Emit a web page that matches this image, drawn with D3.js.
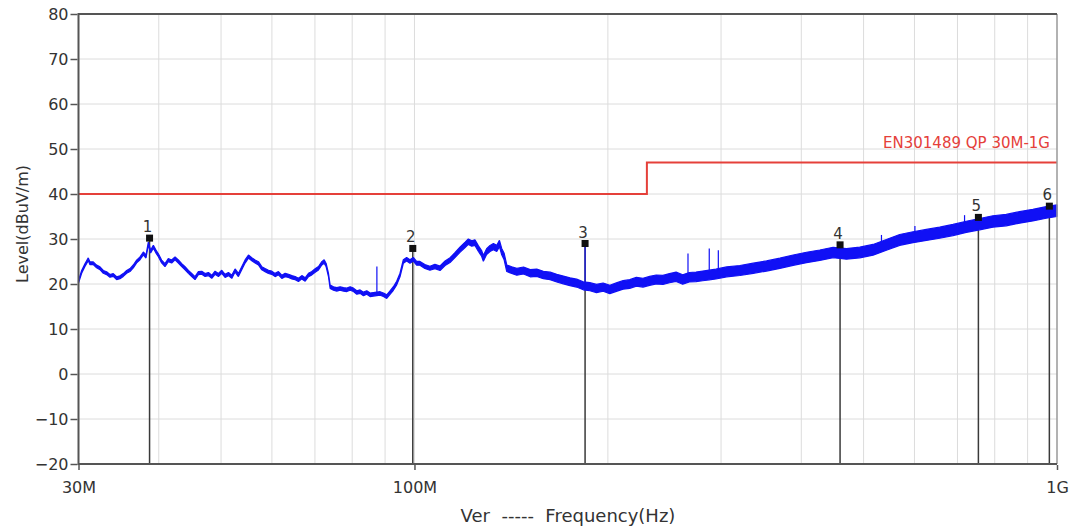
<!DOCTYPE html>
<html>
<head>
<meta charset="utf-8">
<script src="https://cdn.jsdelivr.net/npm/d3@7"></script>
<style>
    body { margin: 0; background: #fff; }
    svg text { font-family: 'DejaVu Sans', sans-serif; }
</style>
</head>
<body>
<script>
var traceFreq = [
    30.0, 30.34, 30.70, 31.07, 31.26, 31.63, 32.01, 32.40, 32.79, 33.18, 33.58, 33.98, 34.39, 34.81, 35.22, 35.65,
    36.08, 36.51, 36.95, 37.40, 37.85, 38.21, 38.53, 38.85, 39.23, 39.60, 39.94, 40.41, 40.90, 41.39, 41.89, 42.40,
    42.91, 43.43, 43.95, 44.48, 45.01, 45.55, 46.10, 46.66, 47.22, 47.79, 48.36, 48.94, 49.53, 50.13, 50.73, 51.34,
    51.96, 52.58, 53.21, 53.85, 54.50, 55.16, 55.82, 56.49, 57.17, 57.86, 58.55, 59.26, 59.97, 60.69, 61.42, 62.16,
    62.91, 63.67, 64.43, 65.21, 65.99, 66.79, 67.59, 68.40, 69.23, 70.06, 70.90, 71.75, 72.35, 72.87, 73.48, 73.92,
    74.81, 75.71, 76.62, 77.54, 78.47, 79.41, 80.36, 81.33, 82.30, 83.29, 84.29, 85.30, 86.32, 88.41, 89.47, 90.54,
    91.62, 92.72, 93.83, 94.95, 96.09, 97.24, 98.40, 99.58, 100.77, 101.97,
    103.8, 105.7, 107.6, 109.6, 111.6, 113.6, 115.6, 117.7, 119.9, 121.3, 122.8, 124.2, 125.7, 127.2, 128.0, 129.5,
    131.1, 132.7, 134.3, 135.6, 136.7, 137.9, 139.2, 141.7, 144.3, 147.8, 151.4, 155.0, 158.7, 162.6, 166.5, 170.5,
    174.6, 178.8, 183.1, 187.5, 192.0, 196.6, 201.4, 206.2, 211.2, 216.3, 221.5, 226.8, 232.3, 237.8, 243.6, 249.4,
    255.4, 261.5, 267.8, 274.3, 280.9, 287.6, 294.5,
    306.1, 321.0, 336.7, 353.1, 370.4, 388.5, 407.5, 427.4, 448.3, 470.2, 493.2, 517.3, 542.6, 569.1, 596.9, 626.1,
    656.7, 688.8, 722.4, 757.8, 794.8, 833.6, 874.4, 917.1, 961.9, 1000];
var traceLevel = [
    20.5, 22.7, 24.2, 25.5, 24.6, 24.6, 23.9, 23.5, 22.7, 22.4, 21.8, 22.0, 21.3, 21.5, 22.0, 22.7,
    23.1, 23.9, 25.0, 25.7, 26.8, 26.1, 29.0, 27.2, 28.3, 27.2, 26.4, 25.0, 24.2, 25.3, 25.0, 25.7,
    25.0, 24.2, 23.5, 22.7, 22.0, 21.3, 22.4, 22.5, 22.0, 22.2, 21.6, 22.5, 22.0, 22.7, 21.8, 22.2,
    21.6, 23.0, 22.0, 23.5, 25.0, 26.1, 25.5, 25.0, 24.6, 23.5, 23.1, 22.7, 22.5, 22.0, 22.4, 21.6,
    22.0, 21.8, 21.5, 21.3, 20.9, 21.5, 21.0, 22.0, 22.4, 23.0, 23.5, 24.6, 25.0, 24.2, 22.0, 19.4,
    19.0, 18.8, 19.0, 18.8, 18.7, 19.0, 18.7, 18.1, 18.3, 17.8, 18.1, 17.6, 17.7, 17.9, 17.6, 17.2,
    18.1, 19.0, 20.2, 22.0, 25.0, 25.5, 25.0, 25.5, 24.6, 24.6,
    23.9, 23.5, 23.9, 23.5, 24.6, 25.3, 26.4, 27.6, 28.7, 29.4, 29.0, 29.2, 27.9, 26.8, 25.7, 27.2,
    27.9, 28.3, 27.9, 29.0, 27.2, 26.1, 23.5, 23.1, 22.7, 23.0, 22.4, 22.5, 22.0, 21.8, 21.3, 20.9,
    20.5, 20.2, 19.6, 19.4, 19.0, 19.3, 18.8, 19.3, 19.8, 20.0, 20.5, 20.3, 20.7, 21.0, 20.9, 21.3,
    21.6, 21.0, 21.5, 21.6, 21.8, 22.0, 22.2,
    22.7, 23.0, 23.5, 24.0, 24.6, 25.3, 25.9, 26.4, 27.0, 26.7, 27.0, 27.6, 28.7, 29.8, 30.4, 30.9,
    31.4, 32.0, 32.7, 33.3, 33.9, 34.2, 34.8, 35.3, 35.9, 36.3];

// Half-thickness of the noise band, by frequency
var bandFreq = [30, 100, 150, 300, 1000];
var bandSpread = [0.3, 0.4, 0.8, 1.1, 1.3];

// Narrow spikes sticking out of the trace
var spikeFreq = [87.4, 184.3, 266.5, 287.6, 297.1, 533.1, 601.0, 718.0, 806.0, 874.0];
var spikeLevel = [23.9, 28.9, 26.8, 27.9, 27.5, 30.9, 32.9, 35.3, 34.6, 35.9];

// Markers
var markerNames = ['1', '2', '3', '4', '5', '6'];
var markerFreq = [38.7, 99.4, 184.3, 459.6, 754.5, 973];
var markerLevel = [30.2, 27.9, 29.0, 28.7, 34.8, 37.3];

// Limit line EN301489 QP
var limitFreq = [30, 230, 230, 1000];
var limitLevel = [40, 40, 47, 47];
var limitName = 'EN301489 QP 30M-1G';

// Axes
var yTicks = [-20, -10, 0, 10, 20, 30, 40, 50, 60, 70, 80];
var xTicks = [30, 100, 1000];
var xTickLabels = ['30M', '100M', '1G'];
var gridFreq = [40, 50, 60, 70, 80, 90, 100, 200, 300, 400, 500, 600, 700, 800, 900];

var width = 1073,
    height = 528,
    plotLeft = 78.5,
    plotRight = 1057,
    plotTop = 14,
    plotBottom = 464;

var colorAxis = '#555',
    colorText = '#333',
    colorGrid = '#dcdcdc',
    colorTrace = '#1010f5',
    colorLimit = '#e5403a';

var svg = d3.select('body')
        .append('svg')
        .attr('width', width)
        .attr('height', height);

var x = d3.scaleLog().domain([30, 1000]).range([plotLeft, plotRight]);
var y = d3.scaleLinear().domain([-20, 80]).range([plotBottom, plotTop]);
var spread = d3.scaleLog().domain(bandFreq).range(bandSpread);

// Grid
svg.append('g')
        .selectAll('line')
        .data(yTicks)
        .enter()
        .append('line')
        .attr('x1', plotLeft)
        .attr('x2', plotRight)
        .attr('y1', function(d) { return y(d); })
        .attr('y2', function(d) { return y(d); })
        .attr('stroke', colorGrid)
        .attr('stroke-width', 1);

svg.append('g')
        .selectAll('line')
        .data(gridFreq)
        .enter()
        .append('line')
        .attr('x1', function(d) { return x(d); })
        .attr('x2', function(d) { return x(d); })
        .attr('y1', plotTop)
        .attr('y2', plotBottom)
        .attr('stroke', colorGrid)
        .attr('stroke-width', 1);

// Limit line
var limitLine = d3.line()
        .x(function(d, i) { return x(limitFreq[i]); })
        .y(function(d, i) { return y(limitLevel[i]); });

svg.append('path')
        .attr('d', limitLine(limitFreq))
        .attr('fill', 'none')
        .attr('stroke', colorLimit)
        .attr('stroke-width', 2);

svg.append('text')
        .attr('x', plotRight - 7)
        .attr('y', y(47) - 15)
        .attr('text-anchor', 'end')
        .attr('fill', colorLimit)
        .style('font-size', '15px')
        .text(limitName);

// Marker stems
svg.append('g')
        .selectAll('line')
        .data(markerFreq)
        .enter()
        .append('line')
        .attr('x1', function(d) { return x(d); })
        .attr('x2', function(d) { return x(d); })
        .attr('y1', function(d, i) { return y(markerLevel[i]); })
        .attr('y2', plotBottom)
        .attr('stroke', '#3a3a3a')
        .attr('stroke-width', 1.5);

// Trace band
var band = d3.area()
        .x(function(d, i) { return x(traceFreq[i]); })
        .y0(function(d, i) { return y(traceLevel[i] - spread(traceFreq[i])); })
        .y1(function(d, i) { return y(traceLevel[i] + spread(traceFreq[i])); });

svg.append('path')
        .attr('d', band(traceFreq))
        .attr('fill', colorTrace)
        .attr('stroke', colorTrace)
        .attr('stroke-width', 1.2)
        .attr('stroke-linejoin', 'bevel');

// Spikes, from the trace up to their peak
var bisect = d3.bisector(function(d) { return d; }).left;
svg.append('g')
        .selectAll('line')
        .data(spikeFreq)
        .enter()
        .append('line')
        .attr('x1', function(d) { return x(d); })
        .attr('x2', function(d) { return x(d); })
        .attr('y1', function(d, i) { return y(spikeLevel[i]); })
        .attr('y2', function(d) {
            var k = Math.min(bisect(traceFreq, d), traceFreq.length - 1);
            return y(traceLevel[k]);
        })
        .attr('stroke', colorTrace)
        .attr('stroke-width', 1.2);

// Marker heads and numbers
svg.append('g')
        .selectAll('rect')
        .data(markerFreq)
        .enter()
        .append('rect')
        .attr('x', function(d) { return x(d) - 3.5; })
        .attr('y', function(d, i) { return y(markerLevel[i]) - 3.5; })
        .attr('width', 7)
        .attr('height', 7)
        .attr('fill', '#111');

svg.append('g')
        .selectAll('text')
        .data(markerFreq)
        .enter()
        .append('text')
        .attr('x', function(d) { return x(d) - 2; })
        .attr('y', function(d, i) { return y(markerLevel[i]) - 6; })
        .attr('text-anchor', 'middle')
        .attr('fill', colorText)
        .style('font-size', '15px')
        .text(function(d, i) { return markerNames[i]; });

// Axes
var yAxis = svg.append('g')
        .attr('transform', 'translate(' + (plotLeft - 1) + ',0)')
        .call(d3.axisLeft(y).tickValues(yTicks).tickSize(7).tickPadding(2));

var xAxis = svg.append('g')
        .attr('transform', 'translate(0,' + (plotBottom + 1) + ')')
        .call(d3.axisBottom(x).tickValues(xTicks).tickSize(5).tickPadding(12)
                .tickFormat(function(d, i) { return xTickLabels[i]; }));

[yAxis, xAxis].forEach(function(a) {
    a.select('.domain').remove();
    a.selectAll('line').attr('stroke', colorAxis).attr('stroke-width', 1.5);
    a.selectAll('text')
            .attr('fill', colorText)
            .style('font-family', 'DejaVu Sans, sans-serif')
            .style('font-size', '16px');
});

// Plot frame
svg.append('line')
        .attr('x1', plotRight).attr('x2', plotRight)
        .attr('y1', plotTop).attr('y2', plotBottom)
        .attr('stroke', '#999')
        .attr('stroke-width', 1.5);

svg.append('path')
        .attr('d', 'M' + plotRight + ',' + plotTop + 'H' + plotLeft + 'V' + plotBottom + 'H' + plotRight)
        .attr('fill', 'none')
        .attr('stroke', colorAxis)
        .attr('stroke-width', 2);

// Axis titles
svg.append('text')
        .attr('transform', 'translate(28,224) rotate(-90)')
        .attr('text-anchor', 'middle')
        .attr('fill', colorText)
        .style('font-size', '16px')
        .text('Level(dBuV/m)');

svg.append('text')
        .attr('x', 568)
        .attr('y', 522)
        .attr('text-anchor', 'middle')
        .attr('fill', colorText)
        .style('font-size', '18px')
        .attr('xml:space', 'preserve')
        .text('Ver  -----  Frequency(Hz)');
</script>
</body>
</html>
